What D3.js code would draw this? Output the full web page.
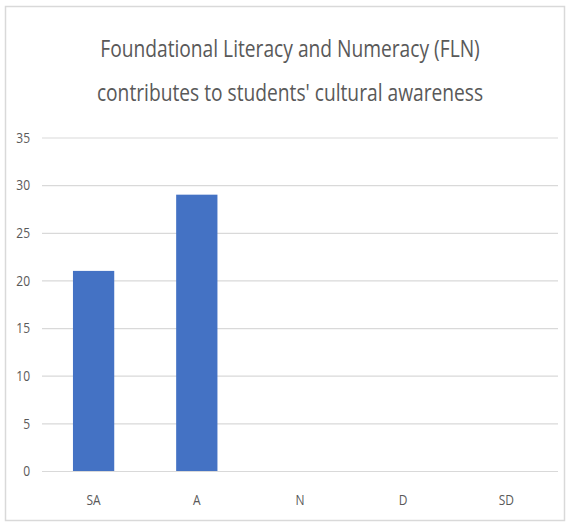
<!DOCTYPE html>
<html>
<head>
<meta charset="utf-8">
<script src="https://cdn.jsdelivr.net/npm/d3@7/dist/d3.min.js"></script>
<style>
  html, body { margin: 0; padding: 0; background: #fff; }
  svg { display: block; }
  text { font-family: "Open Sans", sans-serif; }
</style>
</head>
<body>
<script>
// Survey responses: Likert categories and counts
const categories = ["SA", "A", "N", "D", "SD"];
const counts = [21, 29, 0, 0, 0];
const yTicks = [0, 5, 10, 15, 20, 25, 30, 35];
const titleLines = [
  "Foundational Literacy and Numeracy (FLN)",
  "contributes to students' cultural awareness"
];

const W = 568, H = 524;
const margin = { left: 42, right: 10, top: 137.5, bottom: 53 };
const squeeze = 0.8; // narrow the type horizontally

const svg = d3.select("body").append("svg")
  .attr("width", W).attr("height", H);

// Chart frame
svg.append("rect")
  .attr("x", 5.5).attr("y", 6.5)
  .attr("width", W - 9).attr("height", H - 10)
  .attr("fill", "#fff").attr("stroke", "#d9d9d9").attr("stroke-width", 1.5);

// Title
svg.append("g")
  .attr("transform", `translate(${W / 2 + 6},0) scale(${squeeze},1)`)
  .selectAll("text").data(titleLines).join("text")
  .attr("x", 0)
  .attr("y", (d, i) => 57 + i * 44)
  .attr("text-anchor", "middle")
  .attr("font-size", 24)
  .attr("fill", "#595959")
  .text(d => d);

const x = d3.scaleBand()
  .domain(categories)
  .range([margin.left, W - margin.right])
  .paddingInner(0.6).paddingOuter(0.3);

const y = d3.scaleLinear()
  .domain([0, 35])
  .range([H - margin.bottom, margin.top]);

// Horizontal gridlines
svg.append("g")
  .attr("transform", `translate(${margin.left},0)`)
  .call(d3.axisLeft(y).tickValues(yTicks).tickSize(-(W - margin.left - margin.right)).tickFormat(""))
  .call(g => g.select(".domain").remove())
  .call(g => g.selectAll(".tick line").attr("stroke", "#d9d9d9").attr("stroke-width", 1.2));

// Y tick labels
svg.append("g")
  .attr("transform", `translate(${margin.left - 12},0)`)
  .call(d3.axisLeft(y).tickValues(yTicks).tickSize(0).tickPadding(0))
  .call(g => g.select(".domain").remove())
  .call(g => g.selectAll("text").attr("font-size", 15).attr("fill", "#595959")
    .attr("font-family", "'Open Sans', sans-serif")
    .attr("transform", `scale(${squeeze},1)`)
    .attr("x", 0));

// Bars
svg.append("g").selectAll("rect").data(categories.map((c, i) => ({ c, v: counts[i] })))
  .join("rect")
  .attr("x", d => x(d.c))
  .attr("y", d => y(d.v))
  .attr("width", x.bandwidth())
  .attr("height", d => y(0) - y(d.v))
  .attr("fill", "#4472c4");

// X category labels
svg.append("g")
  .attr("transform", `translate(0,${H - margin.bottom})`)
  .call(d3.axisBottom(x).tickSize(0).tickPadding(23))
  .call(g => g.select(".domain").remove())
  .call(g => g.selectAll("text").attr("font-size", 15).attr("fill", "#595959")
    .attr("font-family", "'Open Sans', sans-serif")
    .attr("transform", `scale(${squeeze},1)`));
</script>
</body>
</html>
